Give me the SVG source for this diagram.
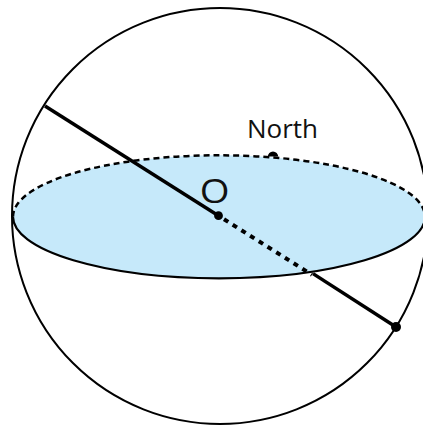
<svg xmlns="http://www.w3.org/2000/svg" width="423" height="428" viewBox="0 0 423 428">
<style>
.ln{fill:none;stroke:#000;stroke-linecap:butt}
.lbl{font-family:"Open Sans","Liberation Sans",sans-serif;fill:#111}
</style>
<rect width="423" height="428" fill="#fff"/>
<g id="sphere">
<circle cx="220" cy="216" r="208" class="ln" stroke-width="2"/>
</g>
<g id="equator">
<ellipse cx="219" cy="216.8" rx="206" ry="61.5" fill="#c6e9fa"/>
<path d="M13,216.8 A206,61.5 0 0 1 425,216.8" class="ln" stroke-width="2.5" stroke-dasharray="6 4"/>
<path d="M13,216.8 A206,61.5 0 0 0 425,216.8" class="ln" stroke-width="2.2"/>
</g>
<g id="axis">
<line x1="45" y1="106" x2="218.5" y2="215.7" class="ln" stroke-width="3.5"/>
<line x1="224" y1="219.2" x2="312" y2="274.8" class="ln" stroke-width="4" stroke-dasharray="5 5.3"/>
<line x1="313" y1="273.6" x2="396" y2="327" class="ln" stroke-width="3.5"/>
<circle cx="218.5" cy="215.7" r="4.4" fill="#000"/>
<circle cx="396" cy="327" r="5" fill="#000"/>
</g>
<g id="north">
<path d="M267.8,156.6 A5.2,5.2 0 0 1 278.2,156.6 Z" fill="#000"/>
<text x="247" y="138.3" class="lbl" font-size="26">North</text>
</g>
<g id="origin">
<text x="0" y="0" class="lbl" font-size="29" transform="translate(199.8,202.8) scale(1.32,1.1)">O</text>
</g>
</svg>
